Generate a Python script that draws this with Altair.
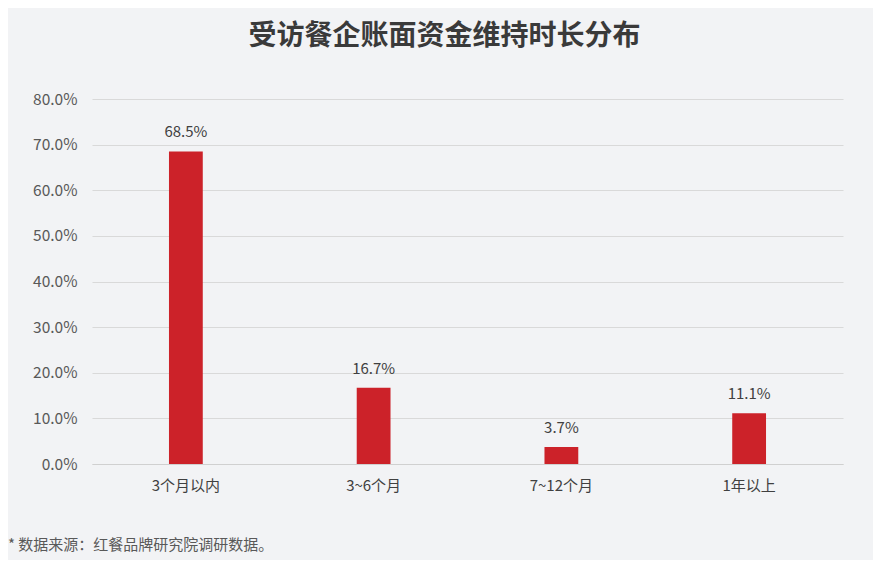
import altair as alt
import pandas as pd

categories = ["3个月以内", "3~6个月", "7~12个月", "1年以上"]
values = [0.685, 0.167, 0.037, 0.111]
title_text = "受访餐企账面资金维持时长分布"
footnote = "* 数据来源：红餐品牌研究院调研数据。"

df = pd.DataFrame({"cat": categories, "val": values})
FONT = "Noto Sans CJK SC"
W, H = 751, 365

base = alt.Chart(df).encode(
    x=alt.X("cat:N", sort=categories, title=None,
            scale=alt.Scale(paddingInner=0.82, paddingOuter=0.41),
            axis=alt.Axis(labelAngle=0, labelFontSize=15, labelColor="#404040",
                          labelFont=FONT, labelPadding=14, ticks=False,
                          domainColor="#d0d0d0")),
    y=alt.Y("val:Q", title=None,
            scale=alt.Scale(domain=[0, 0.8]),
            axis=alt.Axis(format=".1%", values=[0, 0.1, 0.2, 0.3, 0.4, 0.5, 0.6, 0.7, 0.8],
                          labelFontSize=15.5, labelColor="#595959", labelFont=FONT,
                          labelPadding=15, ticks=False, domain=False,
                          gridColor="#d9d9d9")),
)

bars = base.mark_bar(color="#cc2229")
labels = base.mark_text(dy=-19, fontSize=15, color="#404040", font=FONT).encode(
    text=alt.Text("val:Q", format=".1%"))

note = alt.Chart(pd.DataFrame({"t": [footnote]})).mark_text(
    align="left", baseline="middle", fontSize=15, color="#595959", font=FONT
).encode(x=alt.value(-84), y=alt.value(H + 81), text="t:N")

chart = alt.layer(bars, labels, note).properties(
    width=W, height=H,
    title=alt.TitleParams(title_text, fontSize=28, fontWeight="bold", color="#3a3a3a",
                          font=FONT, anchor="middle", dx=-23, offset=41),
    autosize=alt.AutoSizeParams(type="none"),
    padding={"left": 84, "top": 91, "right": 30, "bottom": 96},
    background="#f2f3f5",
).configure_view(stroke=None)

chart.save("out.html", embed_options={"renderer": "svg", "actions": False})
